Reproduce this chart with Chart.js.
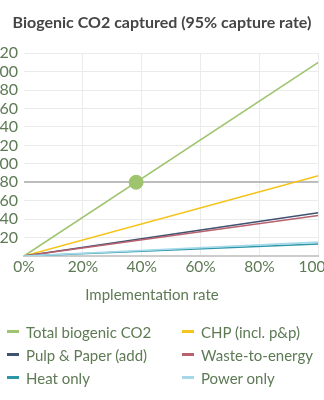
<!DOCTYPE html>
<html>
<head>
<meta charset="utf-8">
<script src="https://cdn.jsdelivr.net/npm/chart.js@4.4.1/dist/chart.umd.min.js"></script>
<style>
  html, body { margin:0; padding:0; background:#fff; width:324px; height:400px; overflow:hidden; }
  #wrap { position:absolute; left:-16px; top:0; width:356px; height:286px; }
  #xtitle { position:absolute; left:0; width:304px; top:285px; text-align:center;
            font-family:"Lato", sans-serif; font-size:15px; color:#5e7a55; }
  #legend { position:absolute; top:322px; left:7px; width:320px;
            display:grid; grid-template-columns:175px 145px; row-gap:4px;
            font-family:"Lato", sans-serif; font-size:15px; color:#5e7a55; }
  .li { display:flex; align-items:center; height:19px; white-space:nowrap; }
  .sw { width:12px; height:3px; margin-right:7px; flex:none; }
</style>
</head>
<body>
<div id="wrap"><canvas id="c"></canvas></div>
<div id="xtitle">Implementation rate</div>
<div id="legend"></div>
<script>
// Data
const implementationRates = [0, 100];          // % implementation
const seriesNames = ["Total biogenic CO2", "CHP (incl. p&p)", "Pulp & Paper (add)", "Waste-to-energy", "Heat only", "Power only"];
const totalBiogenic = [0, 210];
const chp = [0, 87];
const pulpPaper = [0, 47];
const wasteToEnergy = [0, 44];
const heatOnly = [0, 13];
const powerOnly = [0, 15];
const seriesColors = ["#9ec46e", "#f5c51b", "#3f5270", "#b8626f", "#2b97a8", "#a5d9ea"];
const markerPoint = { x: 38.1, y: 80 };
const targetLine = 80;
const yTicks = [20, 40, 60, 80, 100, 120, 140, 160, 180, 200, 220];
const xTicks = [0, 20, 40, 60, 80, 100];

const seriesValues = [totalBiogenic, chp, pulpPaper, wasteToEnergy, heatOnly, powerOnly];
const drawOrder = [5, 4, 3, 2, 1, 0];
const datasets = drawOrder.map(i => ({
  label: seriesNames[i],
  data: implementationRates.map((x, k) => ({ x, y: seriesValues[i][k] })),
  borderColor: seriesColors[i],
  backgroundColor: seriesColors[i],
  borderWidth: 1.6,
  pointRadius: 0,
  fill: false,
  tension: 0
}));
datasets.push({
  label: "marker",
  type: "scatter",
  data: [markerPoint],
  backgroundColor: seriesColors[0],
  borderColor: seriesColors[0],
  pointRadius: 7,
  pointHoverRadius: 7
});

const txt = "#5e7a55";
const chart = new Chart(document.getElementById("c"), {
  type: "line",
  data: { datasets },
  options: {
    responsive: true,
    maintainAspectRatio: false,
    animation: false,
    layout: { padding: { top: 0, right: 0, bottom: 0, left: 0 } },
    plugins: {
      legend: { display: false },
      tooltip: { enabled: false },
      title: {
        display: true,
        text: "Biogenic CO2 captured (95% capture rate)",
        color: "#454545",
        font: { family: "Lato", size: 16, weight: "bold" },
        padding: { top: 13, bottom: 21 }
      }
    },
    scales: {
      x: {
        type: "linear",
        min: 0, max: 100,
        afterBuildTicks: s => { s.ticks = xTicks.map(v => ({ value: v })); },
        afterFit: s => { s.height = 30; },
        ticks: { color: txt, font: { family: "Lato", size: 15.5 }, padding: 2, autoSkip: false,
                 maxRotation: 0, callback: v => v + "%" },
        grid: { color: c => (c.tick && c.tick.value === 0) ? "rgba(0,0,0,0)" : "#ebebeb",
                lineWidth: 1, drawTicks: false },
        border: { display: true, color: "#cccccc", width: 2 }
      },
      y: {
        min: 0, max: 220,
        afterBuildTicks: s => { s.ticks = [0].concat(yTicks).map(v => ({ value: v })); },
        afterFit: s => { s.width = 40; },
        ticks: { color: txt, font: { family: "Lato", size: 16 }, padding: 6, autoSkip: false,
                 callback: v => v === 0 ? "" : String(v) },
        grid: { color: c => (c.tick && c.tick.value === targetLine) ? "#bdbdbd" : "#ebebeb",
                lineWidth: c => (c.tick && c.tick.value === targetLine) ? 2 : 1,
                drawTicks: false },
        border: { display: false }
      }
    }
  }
});

// HTML legend built from the chart datasets
const legend = document.getElementById("legend");
seriesNames.forEach((name, i) => {
  const d = document.createElement("div");
  d.className = "li";
  d.innerHTML = '<span class="sw" style="background:' + seriesColors[i] + '"></span><span></span>';
  d.lastChild.textContent = name;
  legend.appendChild(d);
});
</script>
</body>
</html>
